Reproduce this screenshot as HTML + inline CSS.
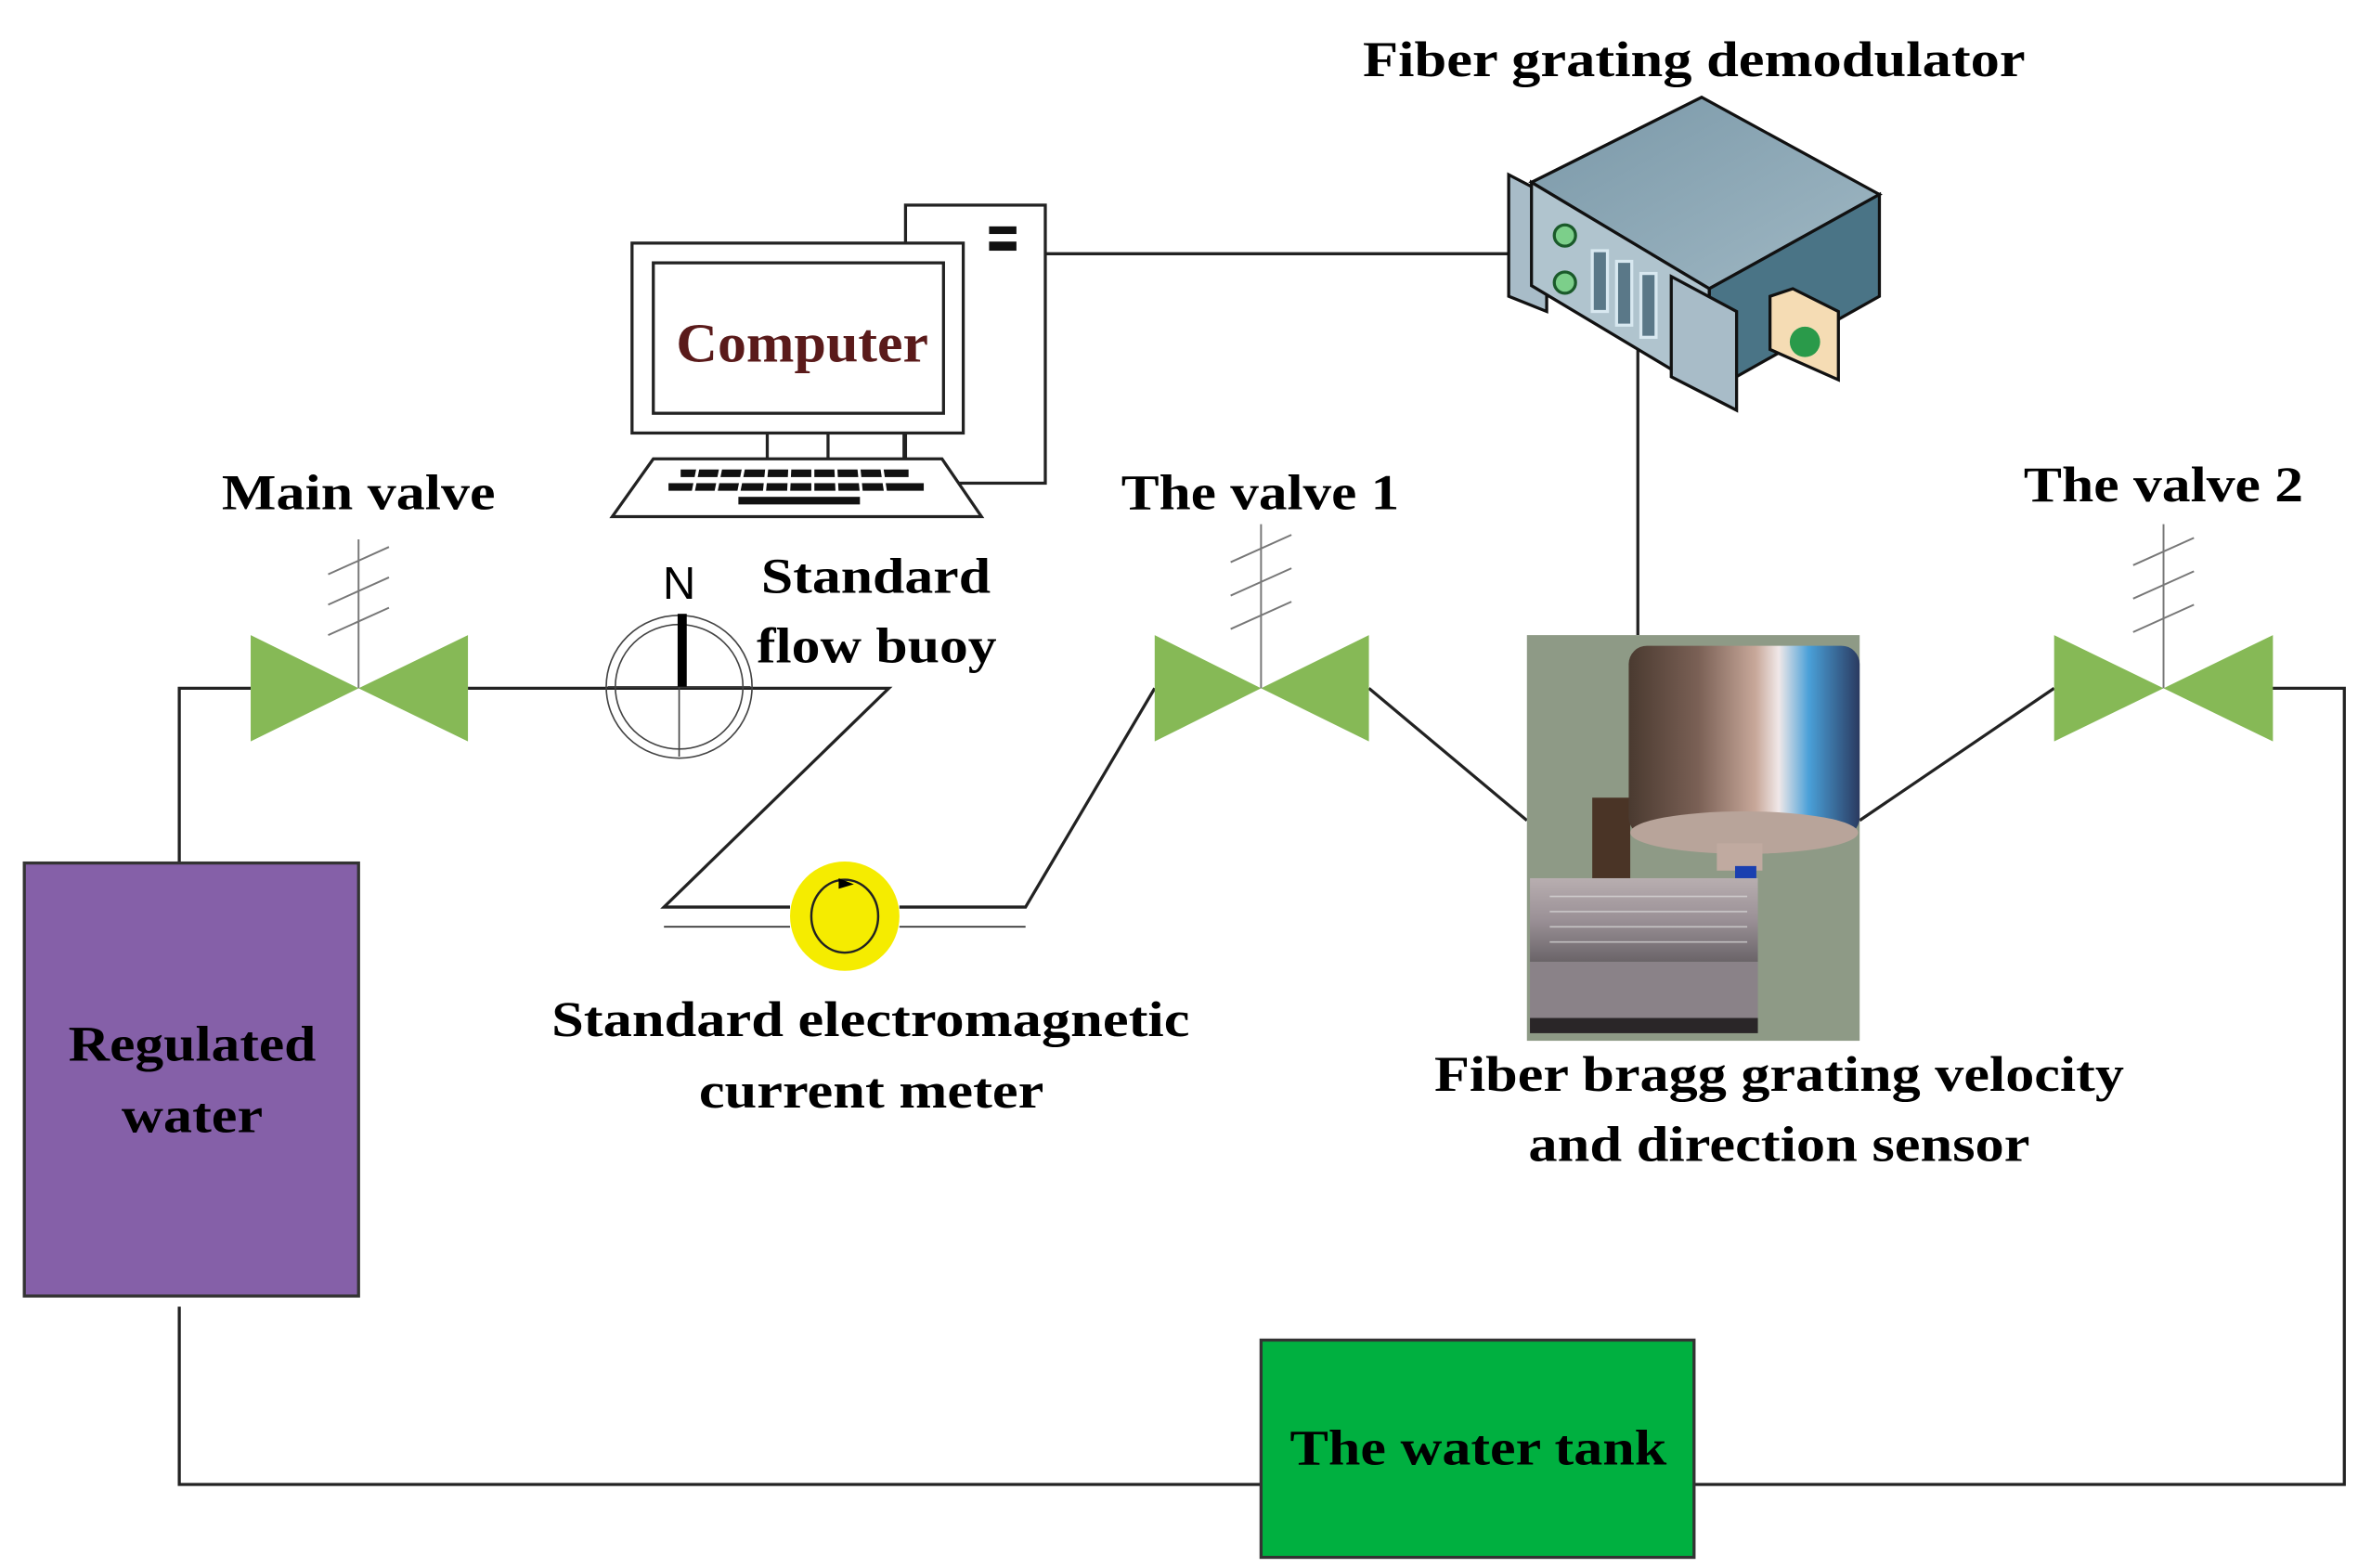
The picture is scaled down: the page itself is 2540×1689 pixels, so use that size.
<!DOCTYPE html>
<html><head><meta charset="utf-8"><style>
html,body{margin:0;padding:0;background:#fff;}
svg{display:block;}
text{font-family:"Liberation Serif",serif;font-weight:bold;fill:#000;}
</style></head><body>
<svg width="2540" height="1689" viewBox="0 0 1552 1032" preserveAspectRatio="none" xmlns="http://www.w3.org/2000/svg">
<defs>
<linearGradient id="cyl" x1="0" x2="1" y1="0" y2="0">
<stop offset="0" stop-color="#4a3a30"/><stop offset="0.3" stop-color="#7a6055"/><stop offset="0.55" stop-color="#c8a89a"/><stop offset="0.65" stop-color="#f0e8e8"/><stop offset="0.78" stop-color="#4aa0d8"/><stop offset="1" stop-color="#2a3a60"/>
</linearGradient>
<linearGradient id="plate" x1="0" x2="0" y1="0" y2="1">
<stop offset="0" stop-color="#b8aeb0"/><stop offset="0.5" stop-color="#9a9096"/><stop offset="1" stop-color="#6a6468"/>
</linearGradient>
<linearGradient id="top" x1="0" x2="1" y1="0" y2="1">
<stop offset="0" stop-color="#7a98a8"/><stop offset="1" stop-color="#a0b8c4"/>
</linearGradient>
</defs>

<g stroke="#222" stroke-width="2" fill="none">
<polyline points="118,568 118,453 165,453"/>
<polyline points="308,453 585,453 437,597 520,597"/>
<line x1="437" y1="610" x2="520" y2="610" stroke-width="1"/>
<polyline points="592,597 675,597 760,453"/>
<line x1="592" y1="610" x2="675" y2="610" stroke-width="1"/>
<line x1="901" y1="453" x2="1005" y2="540"/>
<line x1="1224" y1="540" x2="1352" y2="453"/>
<polyline points="1472,453 1543,453 1543,977 1115,977"/>
<polyline points="830,977 118,977 118,860"/>
<line x1="640" y1="167" x2="1010" y2="167"/>
<line x1="1078" y1="225" x2="1078" y2="418"/>
</g>

<g stroke="#222" stroke-width="2" fill="#fff">
<rect x="596" y="135" width="92" height="183"/>
<rect x="416" y="160" width="218" height="125"/>
<rect x="430" y="173" width="191" height="99"/>
<line x1="505" y1="285" x2="505" y2="302"/><line x1="545" y1="285" x2="545" y2="302"/><line x1="595" y1="285" x2="595" y2="302"/>
<polygon points="430,302 620,302 646,340 403,340"/>
</g>
<rect x="651" y="149" width="18" height="5" fill="#111"/><rect x="651" y="159" width="18" height="6" fill="#111"/>
<g fill="#111">
<rect x="448" y="309" width="150" height="5"/><rect x="440" y="318" width="168" height="5"/><rect x="486" y="327" width="80" height="5"/>
</g>
<g stroke="#fff" stroke-width="2">
<line x1="460" y1="305" x2="456" y2="325"/><line x1="475" y1="305" x2="471" y2="325"/><line x1="490" y1="305" x2="486" y2="325"/><line x1="505" y1="305" x2="503" y2="325"/><line x1="520" y1="305" x2="519" y2="325"/><line x1="535" y1="305" x2="535" y2="325"/><line x1="550" y1="305" x2="551" y2="325"/><line x1="565" y1="305" x2="567" y2="325"/><line x1="580" y1="305" x2="583" y2="325"/>
</g>
<text x="445" y="238" font-size="36" textLength="166" lengthAdjust="spacingAndGlyphs" style="fill:#5a1a1a">Computer</text>

<g stroke="#111" stroke-width="2">
<polygon points="993,115 1018,128 1018,205 993,195" fill="#a8bcc8"/>
<polygon points="1008,120 1120,64 1237,128 1125,190" fill="url(#top)"/>
<polygon points="1125,190 1237,128 1237,195 1125,258" fill="#4a7486"/>
<polygon points="1008,120 1125,190 1125,258 1008,188" fill="#b0c4ce"/>
<polygon points="1100,182 1143,205 1143,270 1100,248" fill="#a8bcc8"/>
<polygon points="1165,195 1180,190 1210,205 1210,250 1165,230" fill="#f5dcb4"/>
</g>
<circle cx="1030" cy="155" r="7" fill="#7ccf8a" stroke="#1a5a2a" stroke-width="2"/>
<circle cx="1030" cy="186" r="7" fill="#7ccf8a" stroke="#1a5a2a" stroke-width="2"/>
<g fill="#5a7888" stroke="#d8e8f0" stroke-width="2">
<rect x="1048" y="165" width="10" height="40"/><rect x="1064" y="172" width="10" height="42"/><rect x="1080" y="180" width="10" height="42"/>
</g>
<circle cx="1188" cy="225" r="10" fill="#2a9a4a"/>

<g fill="#86b956">
<polygon points="165,418 165,488 236,453"/><polygon points="308,418 308,488 236,453"/>
<polygon points="760,418 760,488 830,453"/><polygon points="901,418 901,488 830,453"/>
<polygon points="1352,418 1352,488 1424,453"/><polygon points="1496,418 1496,488 1424,453"/>
</g>
<g stroke="#777" stroke-width="1.2">
<line x1="236" y1="355" x2="236" y2="453"/><line x1="216" y1="378" x2="256" y2="360"/><line x1="216" y1="398" x2="256" y2="380"/><line x1="216" y1="418" x2="256" y2="400"/>
<line x1="830" y1="345" x2="830" y2="453"/><line x1="810" y1="370" x2="850" y2="352"/><line x1="810" y1="392" x2="850" y2="374"/><line x1="810" y1="414" x2="850" y2="396"/>
<line x1="1424" y1="345" x2="1424" y2="453"/><line x1="1404" y1="372" x2="1444" y2="354"/><line x1="1404" y1="394" x2="1444" y2="376"/><line x1="1404" y1="416" x2="1444" y2="398"/>
</g>

<g fill="none" stroke="#444" stroke-width="1">
<ellipse cx="447" cy="452" rx="48" ry="47"/><ellipse cx="447" cy="452" rx="42" ry="41"/>
<line x1="447" y1="405" x2="447" y2="498"/><line x1="400" y1="452" x2="494" y2="452"/>
</g>
<rect x="446" y="404" width="6" height="48" fill="#000"/>
<text x="447" y="394" text-anchor="middle" font-size="30" style="font-family:'Liberation Sans',sans-serif;font-weight:normal">N</text>

<ellipse cx="556" cy="603" rx="36" ry="36" fill="#f5ec00"/>
<ellipse cx="556" cy="603" rx="22" ry="24" fill="none" stroke="#222" stroke-width="1.5"/>
<polygon points="552,578 562,582 552,585" fill="#000"/>

<rect x="1005" y="418" width="219" height="267" fill="#8e9a86"/>
<rect x="1048" y="525" width="25" height="75" fill="#4a3426"/>
<rect x="1072" y="425" width="152" height="125" rx="12" fill="url(#cyl)"/>
<ellipse cx="1148" cy="548" rx="75" ry="14" fill="#b8a49a"/>
<rect x="1130" y="555" width="30" height="18" fill="#c0aaa0"/>
<rect x="1142" y="570" width="14" height="12" fill="#1a40b0"/>
<rect x="1007" y="578" width="150" height="55" fill="url(#plate)"/>
<rect x="1007" y="633" width="150" height="45" fill="#8a8288"/>
<rect x="1007" y="670" width="150" height="10" fill="#2a2628"/>
<g stroke="#ddd" stroke-width="1" opacity="0.7">
<line x1="1020" y1="590" x2="1150" y2="590"/><line x1="1020" y1="600" x2="1150" y2="600"/><line x1="1020" y1="610" x2="1150" y2="610"/><line x1="1020" y1="620" x2="1150" y2="620"/>
</g>

<rect x="16" y="568" width="220" height="285" fill="#8560a8" stroke="#333" stroke-width="2"/>
<rect x="830" y="882" width="285" height="143" fill="#00b040" stroke="#333" stroke-width="2"/>

<g font-size="33">
<text x="897" y="50" textLength="436" lengthAdjust="spacingAndGlyphs">Fiber grating demodulator</text>
<text x="146" y="335" textLength="180" lengthAdjust="spacingAndGlyphs">Main valve</text>
<text x="738" y="335" textLength="183" lengthAdjust="spacingAndGlyphs">The valve 1</text>
<text x="1332" y="330" textLength="184" lengthAdjust="spacingAndGlyphs">The valve 2</text>
<text x="501" y="390" textLength="151" lengthAdjust="spacingAndGlyphs">Standard</text>
<text x="498" y="436" textLength="158" lengthAdjust="spacingAndGlyphs">flow buoy</text>
<text x="363" y="682" textLength="420" lengthAdjust="spacingAndGlyphs">Standard electromagnetic</text>
<text x="460" y="729" textLength="227" lengthAdjust="spacingAndGlyphs">current meter</text>
<text x="944" y="718" textLength="454" lengthAdjust="spacingAndGlyphs">Fiber bragg grating velocity</text>
<text x="1006" y="764" textLength="330" lengthAdjust="spacingAndGlyphs">and direction sensor</text>
<text x="45" y="698" textLength="163" lengthAdjust="spacingAndGlyphs">Regulated</text>
<text x="80" y="745" textLength="93" lengthAdjust="spacingAndGlyphs">water</text>
<text x="849" y="964" textLength="248" lengthAdjust="spacingAndGlyphs">The water tank</text>
</g>
</svg>
</body></html>
